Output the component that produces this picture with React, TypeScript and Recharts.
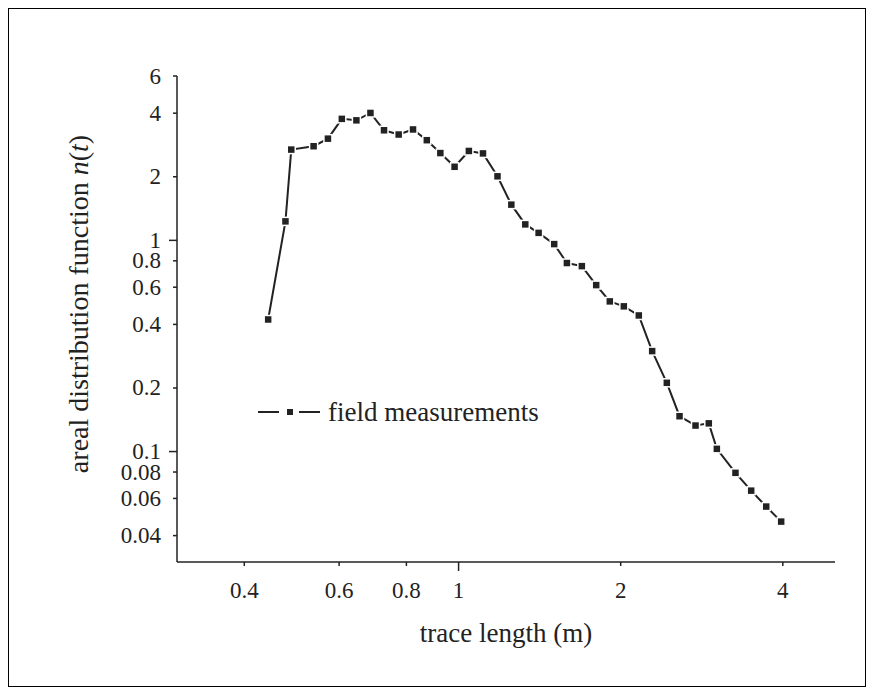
import { LineChart, Line, XAxis, YAxis, Legend, Label } from 'recharts';

const traceLength = [
  0.443, 0.477, 0.489, 0.538, 0.572, 0.607, 0.646, 0.686, 0.727, 0.774, 0.823, 0.873, 0.925,
  0.983, 1.045, 1.11, 1.181, 1.253, 1.33, 1.408, 1.505, 1.589, 1.694, 1.801, 1.909, 2.027,
  2.161, 2.288, 2.436, 2.572, 2.754, 2.915, 3.017, 3.267, 3.494, 3.726, 3.972,
];
const arealDistribution = [
  0.422, 1.23, 2.69, 2.79, 3.03, 3.76, 3.7, 4.01, 3.32, 3.17, 3.35, 2.98, 2.59,
  2.23, 2.65, 2.58, 2.01, 1.476, 1.19, 1.085, 0.96, 0.781, 0.755, 0.614, 0.514, 0.487,
  0.441, 0.299, 0.2116, 0.147, 0.1328, 0.136, 0.103, 0.0793, 0.0653, 0.0549, 0.0466,
];
const xTicks = [0.4, 0.6, 0.8, 1, 2, 4];
const yTicks = [0.04, 0.06, 0.08, 0.1, 0.2, 0.4, 0.6, 0.8, 1, 2, 4, 6];
const seriesName = 'field measurements';

const FONT = '"Liberation Serif", "Times New Roman", serif';
const INK = '#222';
const LEGEND_H = 34; // legend box height, recharts reserves it below the plot

const data = traceLength.map((x, i) => ({ x, n: arealDistribution[i] }));

function XTick(props: any) {
  const { x, y, payload } = props;
  const major = payload.value === 1;
  return (
    <g>
      <line x1={x} y1={y} x2={x} y2={y + (major ? 9 : 4)} stroke={INK} strokeWidth={1.5} />
      <text x={x} y={y + 28} textAnchor="middle" dominantBaseline="central" fontFamily={FONT} fontSize={23} fill={INK}>
        {payload.value}
      </text>
    </g>
  );
}

function YTick(props: any) {
  const { x, y, payload } = props;
  const major = payload.value === 1 || payload.value === 0.1;
  return (
    <g>
      <line x1={x} y1={y} x2={x - (major ? 8 : 4)} y2={y} stroke={INK} strokeWidth={1.5} />
      <text x={x - 16} y={y} textAnchor="end" dominantBaseline="central" fontFamily={FONT} fontSize={23} fill={INK}>
        {payload.value}
      </text>
    </g>
  );
}

function SquareDot(props: any) {
  const { cx, cy, index } = props;
  if (cx == null || cy == null) return null;
  return <rect key={index} x={cx - 4} y={cy - 4} width={8} height={8} fill={INK} stroke="#fff" strokeWidth={1.5} />;
}

function LegendBox() {
  return (
    <svg width={320} height={LEGEND_H} style={{ display: 'block' }}>
      <line x1={0} y1={17} x2={21} y2={17} stroke={INK} strokeWidth={2} />
      <rect x={29} y={14} width={6} height={6} fill={INK} />
      <line x1={41} y1={17} x2={62} y2={17} stroke={INK} strokeWidth={2} />
      <text x={70} y={17} dominantBaseline="central" fontFamily={FONT} fontSize={27} fill={INK}>
        {seriesName}
      </text>
    </svg>
  );
}

function YTitle() {
  const cx = 69;
  const cy = 295;
  return (
    <text
      x={cx}
      y={cy}
      transform={`rotate(-90, ${cx}, ${cy})`}
      textAnchor="middle"
      dominantBaseline="central"
      fontFamily={FONT}
      fontSize={28}
      fill={INK}
    >
      areal distribution function <tspan fontStyle="italic">n</tspan>(<tspan fontStyle="italic">t</tspan>)
    </text>
  );
}

function XTitle() {
  return (
    <text x={497} y={624} textAnchor="middle" dominantBaseline="central" fontFamily={FONT} fontSize={27} fill={INK}>
      trace length (m)
    </text>
  );
}

export default function App() {
  return (
    <div style={{ width: 858, height: 679, border: '1px solid #000', boxSizing: 'border-box', background: '#fff' }}>
      <LineChart width={856} height={677} data={data} margin={{ top: 67, right: 30, bottom: 0, left: 0 }}>
        <XAxis
          dataKey="x"
          type="number"
          scale="log"
          domain={[0.3, 5]}
          ticks={xTicks}
          allowDataOverflow
          height={124 - LEGEND_H}
          tickSize={0}
          tickMargin={0}
          tickLine={false}
          tick={<XTick />}
          axisLine={{ stroke: INK, strokeWidth: 1.5 }}
          interval={0}
        >
          <Label content={<XTitle />} />
        </XAxis>
        <YAxis
          type="number"
          scale="log"
          domain={[0.03, 6]}
          ticks={yTicks}
          allowDataOverflow
          width={168}
          tickSize={0}
          tickMargin={0}
          tickLine={false}
          tick={<YTick />}
          axisLine={{ stroke: INK, strokeWidth: 1.5 }}
          interval={0}
        >
          <Label content={<YTitle />} />
        </YAxis>
        <Legend
          content={<LegendBox />}
          wrapperStyle={{ position: 'absolute', left: 249, top: 386, width: 320, height: LEGEND_H }}
        />
        <Line
          dataKey="n"
          name={seriesName}
          type="linear"
          stroke={INK}
          strokeWidth={2}
          dot={SquareDot}
          activeDot={false}
          isAnimationActive={false}
        />
      </LineChart>
    </div>
  );
}
